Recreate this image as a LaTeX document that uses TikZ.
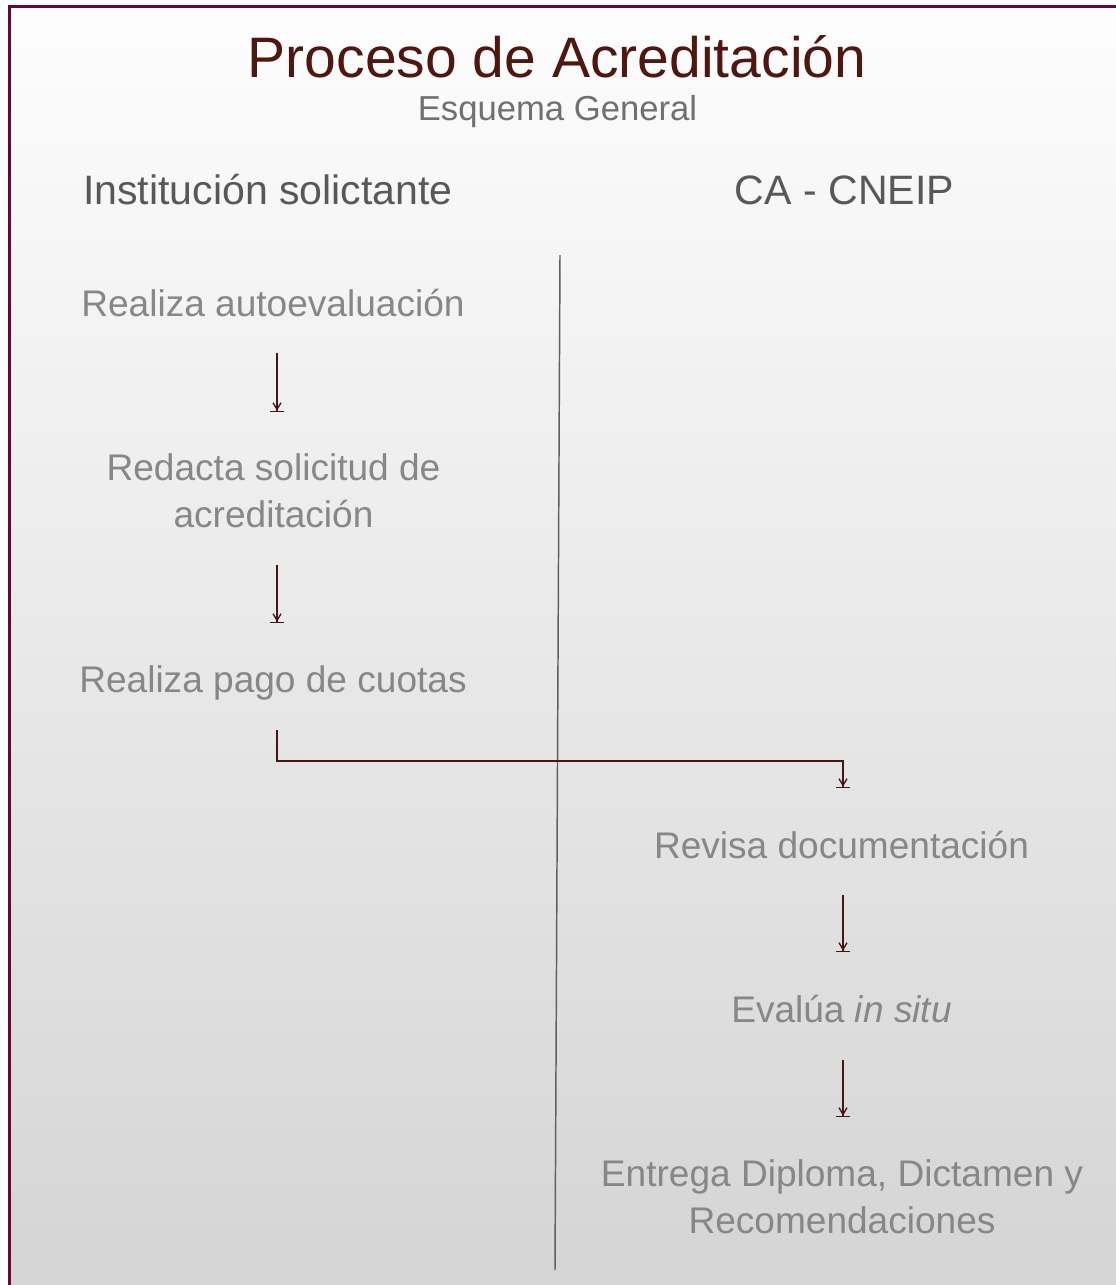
\documentclass[tikz,border=0pt]{standalone}
\usepackage{fontspec}
\setmainfont{Liberation Sans}
\usetikzlibrary{arrows.meta}
\definecolor{framec}{RGB}{105,5,55}
\definecolor{titlec}{RGB}{78,24,16}
\definecolor{arrc}{RGB}{72,22,18}
\definecolor{bodyc}{RGB}{135,135,135}
\definecolor{headc}{RGB}{88,88,88}
\definecolor{subc}{RGB}{112,112,112}
\definecolor{bgtop}{RGB}{253,253,253}
\definecolor{bgbot}{RGB}{212,212,212}
\definecolor{divc}{RGB}{95,95,95}
\begin{document}
\begin{tikzpicture}[x=0.75pt,y=-0.75pt,
  body/.style={font=\fontsize{27.8pt}{35pt}\selectfont, text=bodyc, align=center, inner sep=0pt},
  head/.style={font=\fontsize{30.8pt}{36pt}\selectfont, text=headc, inner sep=0pt, anchor=base},
  arr/.style={draw=arrc, line width=1.1pt, -{Straight Barb[length=5pt,width=6pt,line width=1pt]Bar[width=10.5pt,line width=1pt]}},
]
\useasboundingbox (0,0) rectangle (1116,1285);
\fill[white] (0,0) rectangle (1116,1285);
\shade[top color=bgtop, bottom color=bgbot] (9.5,6.5) rectangle (1140,1300);
\draw[framec, line width=2.25pt] (9.5,1300) -- (9.5,6.5) -- (1140,6.5);

% titles
\node[font=\fontsize{42.8pt}{50pt}\selectfont, text=titlec, inner sep=0pt, anchor=base] (title) at (557,77) {Proceso de Acreditación};
\node[font=\fontsize{26pt}{30pt}\selectfont, text=subc, inner sep=0pt, anchor=base] (sub) at (557.5,120) {Esquema General};
\node[head] (hl) at (268,204) {Institución solictante};
\node[head] (hr) at (844.5,204) {CA - CNEIP};

% divider
\coordinate (dtop) at (560,255);
\coordinate (dbot) at (555,1270);
\draw[divc, line width=1.1pt] (dtop) -- (dbot);

% left column
\node[body, anchor=base] (a) at (273,316) {Realiza autoevaluación};
\node[body] (b) at (273.5,491) {Redacta solicitud de\\acreditación};
\node[body, anchor=base] (c) at (273,692) {Realiza pago de cuotas};

% right column
\node[body, anchor=base] (d) at (841.5,858) {Revisa documentación};
\node[body, anchor=base] (e) at (841.5,1022) {Evalúa \textit{in situ}};
\node[body] (f) at (842,1196.5) {Entrega Diploma, Dictamen y\\Recomendaciones};

% connectors
\draw[arr] ([shift={(4,37)}]a.base) -- ([shift={(3.5,-79)}]b.center);
\draw[arr] ([shift={(3.5,74)}]b.center) -- ([shift={(4,-69)}]c.base);
\draw[arr] ([shift={(4,38)}]c.base) |- ([shift={(1.5,-97)}]d.base) -- ([shift={(1.5,-70)}]d.base);
\draw[arr] ([shift={(1.5,37)}]d.base) -- ([shift={(1.5,-70)}]e.base);
\draw[arr] ([shift={(1.5,38)}]e.base) -- ([shift={(1,-79.5)}]f.center);
\end{tikzpicture}
\end{document}
